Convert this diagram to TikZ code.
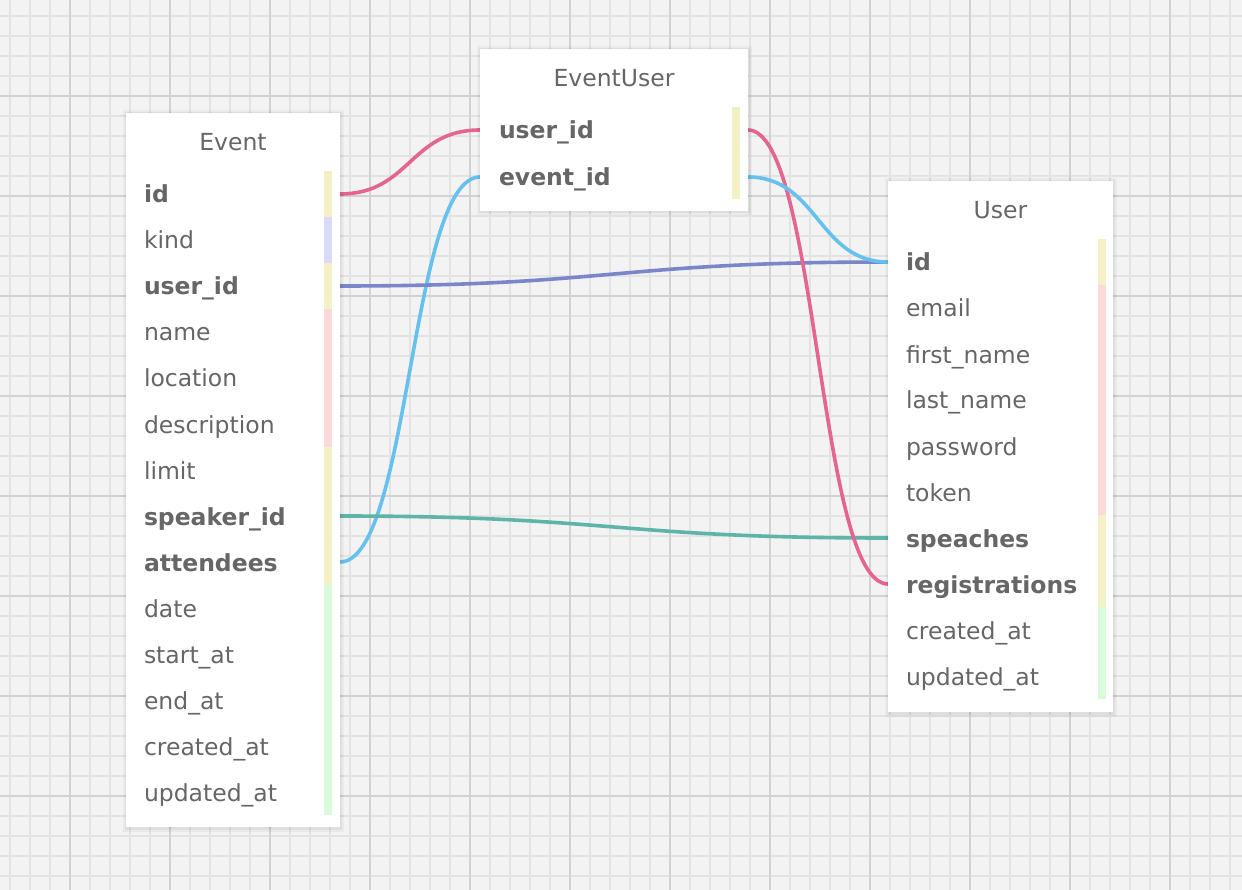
\documentclass[tikz,border=0pt]{standalone}
\usepackage{fontspec}
\setmainfont{DejaVu Sans}
\definecolor{bg}{HTML}{F3F3F3}
\definecolor{gminor}{HTML}{E3E3E3}
\definecolor{gmajor}{HTML}{D2D2D2}
\definecolor{txt}{HTML}{666666}
\definecolor{byel}{HTML}{F2F2C6}
\definecolor{blav}{HTML}{DADAFA}
\definecolor{bpink}{HTML}{FCD9D9}
\definecolor{bgreen}{HTML}{DAFBDA}
\definecolor{lpink}{HTML}{E5658F}
\definecolor{lblue}{HTML}{66C1EE}
\definecolor{lpurple}{HTML}{7A86C9}
\definecolor{lteal}{HTML}{5FB4A8}
\tikzset{
  tablebox/.style={fill=white, draw=none,
    preaction={draw=black, draw opacity=0.035, line width=7pt, transform canvas={yshift=-1pt}},
    preaction={draw=black, draw opacity=0.05, line width=3pt, transform canvas={yshift=-1pt}}},
  titletext/.style={text=txt, font=\fontsize{23.5}{28}\selectfont, inner sep=0pt},
  field/.style={text=txt, font=\fontsize{23.5}{28}\selectfont, align=left, text width=#1, inner ysep=0pt, text height=23pt, text depth=5pt},
  keyfield/.style={field=#1, font=\fontsize{23.5}{28}\selectfont\bfseries},
  conn/.style={line width=3.6pt, line cap=round},
}
\begin{document}
\begin{tikzpicture}[x=1pt,y=-1pt]
\useasboundingbox (0,0) rectangle (1242,890);
\fill[bg] (0,0) rectangle (1242,890);
% grid
\foreach \i in {0,...,61} {\draw[gminor, line width=1.6pt] (10+20*\i,0) -- (10+20*\i,890);}
\foreach \i in {0,...,43} {\draw[gminor, line width=1.6pt] (0,16+20*\i) -- (1242,16+20*\i);}
\foreach \i in {0,...,11} {\draw[gmajor, line width=2pt] (70+100*\i,0) -- (70+100*\i,890);}
\foreach \i in {0,...,7} {\draw[gmajor, line width=2pt] (0,96+100*\i) -- (1242,96+100*\i);}

% ---------- connectors (drawn below the tables) ----------
\coordinate (e-id-r) at (340,194);
\coordinate (e-user_id-r) at (340,286);
\coordinate (e-speaker_id-r) at (340,516);
\coordinate (e-attendees-r) at (340,562);
\coordinate (eu-user_id-l) at (480,130);
\coordinate (eu-event_id-l) at (480,177);
\coordinate (eu-user_id-r) at (748,130);
\coordinate (eu-event_id-r) at (748,177);
\coordinate (u-id-l) at (888,262);
\coordinate (u-speaches-l) at (888,538);
\coordinate (u-registrations-l) at (888,584);
\draw[conn, lpink] (e-id-r) .. controls +(70,0) and +(-70,0) .. (eu-user_id-l);
\draw[conn, lblue] (e-attendees-r) .. controls +(70,0) and +(-70,0) .. (eu-event_id-l);
\draw[conn, lpurple] (e-user_id-r) .. controls +(274,0) and +(-274,0) .. (u-id-l);
\draw[conn, lteal] (e-speaker_id-r) .. controls +(274,0) and +(-274,0) .. (u-speaches-l);
\draw[conn, lpink] (eu-user_id-r) .. controls +(70,0) and +(-70,0) .. (u-registrations-l);
\draw[conn, lblue] (eu-event_id-r) .. controls +(70,0) and +(-70,0) .. (u-id-l);

% ---------- table boxes ----------
\node[tablebox, minimum width=214pt, minimum height=714pt, inner sep=0pt] (event) at (233,470) {};
\node[tablebox, minimum width=268pt, minimum height=162pt, inner sep=0pt] (eventuser) at (614,130) {};
\node[tablebox, minimum width=225pt, minimum height=531pt, inner sep=0pt] (user) at (1000.5,446.5) {};

% ---------- Event ----------
\node[titletext] (event-title) at (233,142) {Event};
\begin{scope}[every node/.append style={inner xsep=18pt}]
\node[keyfield=178pt] (e-id) at (233,194) {id};
\node[field=178pt] (e-kind) at (233,240) {kind};
\node[keyfield=178pt] (e-user_id) at (233,286) {user\_id};
\node[field=178pt] (e-name) at (233,332) {name};
\node[field=178pt] (e-location) at (233,378) {location};
\node[field=178pt] (e-description) at (233,424) {description};
\node[field=178pt] (e-limit) at (233,470) {limit};
\node[keyfield=178pt] (e-speaker_id) at (233,516) {speaker\_id};
\node[keyfield=178pt] (e-attendees) at (233,562) {attendees};
\node[field=178pt] (e-date) at (233,608) {date};
\node[field=178pt] (e-start_at) at (233,654) {start\_at};
\node[field=178pt] (e-end_at) at (233,700) {end\_at};
\node[field=178pt] (e-created_at) at (233,746) {created\_at};
\node[field=178pt] (e-updated_at) at (233,792) {updated\_at};
\end{scope}
\fill[byel] (324,171) rectangle (332,217);
\fill[blav] (324,217) rectangle (332,263);
\fill[byel] (324,263) rectangle (332,309);
\fill[bpink] (324,309) rectangle (332,447);
\fill[byel] (324,447) rectangle (332,585);
\fill[bgreen] (324,585) rectangle (332,815);

% ---------- EventUser ----------
\node[titletext] (eu-title) at (614,78) {EventUser};
\begin{scope}[every node/.append style={inner xsep=19pt}]
\node[keyfield=230pt] (eu-user_id) at (614,130) {user\_id};
\node[keyfield=230pt] (eu-event_id) at (614,177) {event\_id};
\end{scope}
\fill[byel] (732,107) rectangle (740,199);

% ---------- User ----------
\node[titletext] (u-title) at (1000.5,210) {User};
\begin{scope}[every node/.append style={inner xsep=18pt}]
\node[keyfield=189pt] (u-id) at (1000.5,262) {id};
\node[field=189pt] (u-email) at (1000.5,308) {email};
\node[field=189pt] (u-first_name) at (1000.5,354) {first\_name};
\node[field=189pt] (u-last_name) at (1000.5,400) {last\_name};
\node[field=189pt] (u-password) at (1000.5,446) {password};
\node[field=189pt] (u-token) at (1000.5,492) {token};
\node[keyfield=189pt] (u-speaches) at (1000.5,538) {speaches};
\node[keyfield=189pt] (u-registrations) at (1000.5,584) {registrations};
\node[field=189pt] (u-created_at) at (1000.5,630) {created\_at};
\node[field=189pt] (u-updated_at) at (1000.5,676) {updated\_at};
\end{scope}
\fill[byel] (1098,239) rectangle (1106,285);
\fill[bpink] (1098,285) rectangle (1106,515);
\fill[byel] (1098,515) rectangle (1106,607);
\fill[bgreen] (1098,607) rectangle (1106,699);
\end{tikzpicture}
\end{document}
